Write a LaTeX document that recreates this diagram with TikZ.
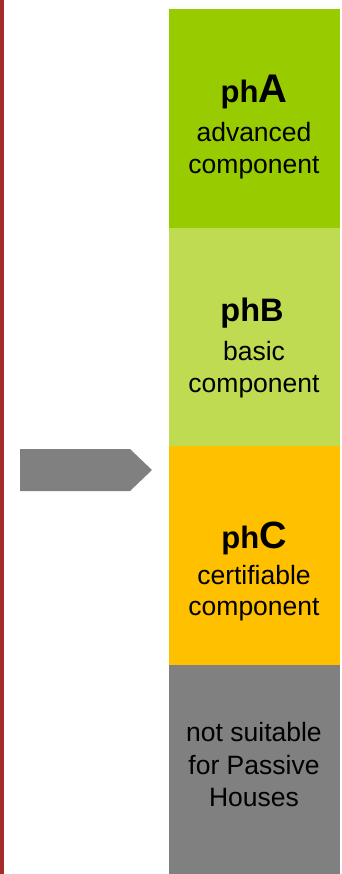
\documentclass[tikz,border=0pt]{standalone}
\usepackage{fontspec}
\setmainfont{Liberation Sans}
\definecolor{edgered}{HTML}{A52B2B}
\definecolor{levelA}{HTML}{99CC00}
\definecolor{levelB}{HTML}{BEDB51}
\definecolor{levelC}{HTML}{FFC000}
\definecolor{levelD}{HTML}{808080}
\definecolor{pointer}{HTML}{808080}
\tikzset{
  band/.style={rectangle, draw=none, inner sep=0pt, outer sep=0pt, minimum width=171pt},
  txt/.style={anchor=base, inner sep=0pt, font=\fontsize{26.5}{30}\selectfont},
  head/.style={anchor=base, inner sep=0pt, font=\bfseries\fontsize{31}{36}\selectfont}
}
\begin{document}
\begin{tikzpicture}[x=1pt, y=-1pt]
\useasboundingbox (0,0) rectangle (342,874);
% red rule on the left edge
\fill[edgered] (0,0) rectangle (4,874);
% level bands
\node[band, fill=levelA, minimum height=219pt] (bandA) at (254.5,118.5) {};
\node[band, fill=levelB, minimum height=218pt] (bandB) at (254.5,337) {};
\node[band, fill=levelC, minimum height=219pt] (bandC) at (254.5,555.5) {};
\node[band, fill=levelD, minimum height=209pt] (bandD) at (254.5,769.5) {};
% labels
\node[head] (tA1) at (254,103) {ph{\fontsize{40}{44}\selectfont A}};
\node[txt] (tA2) at (254,141.7) {advanced};
\node[txt] (tA3) at (254,174) {component};
\node[head, font=\bfseries\fontsize{32.5}{36}\selectfont] (tB1) at (252,321.7) {phB};
\node[txt] (tB2) at (254,360) {basic};
\node[txt] (tB3) at (254,392.5) {component};
\node[head] (tC1) at (254,548.3) {ph{\fontsize{38}{42}\selectfont C}};
\node[txt] (tC2) at (254,584.3) {certifiable};
\node[txt] (tC3) at (254,615.7) {component};
\node[txt] (tD1) at (254,741.7) {not suitable};
\node[txt] (tD2) at (254,774) {for Passive};
\node[txt] (tD3) at (254,806.7) {Houses};
% pointer towards the certifiable band
\fill[pointer] (20,449) -- (130,449) -- (152,470) -- (130,491) -- (20,491) -- cycle;
\end{tikzpicture}
\end{document}
